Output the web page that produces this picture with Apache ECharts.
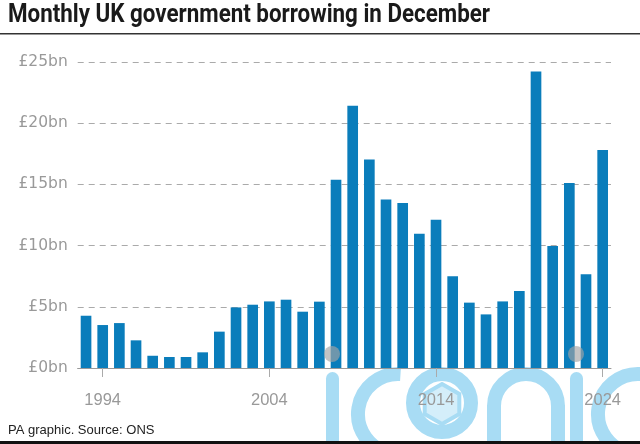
<!DOCTYPE html>
<html>
<head>
<meta charset="utf-8">
<script src="https://cdn.jsdelivr.net/npm/echarts@6/dist/echarts.min.js"></script>
<style>html,body{margin:0;padding:0;background:#fff}#c{width:640px;height:444px}</style>
</head>
<body>
<div id="c"></div>
<script>
var years = ['1993','1994','1995','1996','1997','1998','1999','2000','2001','2002','2003','2004','2005','2006','2007','2008','2009','2010','2011','2012','2013','2014','2015','2016','2017','2018','2019','2020','2021','2022','2023','2024'];
var borrowing = [4.27,3.51,3.67,2.26,1.0,0.9,0.9,1.28,2.97,4.95,5.17,5.44,5.58,4.6,5.42,15.38,21.43,17.04,13.77,13.48,10.97,12.12,7.49,5.34,4.38,5.44,6.29,24.23,9.97,15.11,7.65,17.81];
var labelledYears = ['1994','2004','2014','2024'];
var yTicks = [0,5,10,15,20,25];

var chart = echarts.init(document.getElementById('c'));
var shownIdx = function(i){ return labelledYears.indexOf(years[i]) >= 0; };
var wm = '#a8dcf4';
var wmStroke = {stroke: wm, lineWidth: 14, fill: 'none'};
var PI = Math.PI;
chart.setOption({
  animation: false,
  grid: {left: 77.7, right: 29, top: 62, bottom: 76, containLabel: false},
  xAxis: [{
    type: 'category', data: years, offset: 10,
    axisLine: {show: false},
    axisTick: {show: true, alignWithLabel: true, length: 9, lineStyle: {color: '#aaa', width: 1},
      interval: function(i){ return shownIdx(i); }},
    axisLabel: {margin: 14, color: '#999', fontSize: 16.5, fontFamily: 'Liberation Sans',
      interval: function(i){ return shownIdx(i); }}
  },{
    type: 'category', data: years, position: 'bottom',
    axisLine: {show: true, lineStyle: {color: '#999', width: 1}},
    axisTick: {show: false}, axisLabel: {show: false}
  }],
  yAxis: {
    type: 'value', min: 0, max: 25, interval: 5,
    axisLine: {show: false}, axisTick: {show: false},
    axisLabel: {margin: 10, color: '#999', fontSize: 15.5, fontFamily: 'DejaVu Sans',
      formatter: function(v){ return yTicks.indexOf(v) >= 0 ? '£' + v + 'bn' : ''; }},
    splitLine: {lineStyle: {color: '#aaa', type: [6, 5], width: 1}}
  },
  series: [{
    type: 'bar', data: borrowing, barCategoryGap: '36%',
    itemStyle: {color: '#0a7dbb'}, silent: true
  }],
  graphic: [
    {type: 'text', x: 8, y: 2, scaleX: 0.86, originX: 0, style: {text: 'Monthly UK government borrowing in December', fontSize: 26, fontWeight: 'bold', fontFamily: 'Roboto', fill: '#1a1a1a'}},
    {type: 'rect', left: 0, top: 33, shape: {width: 640, height: 1.5}, style: {fill: '#333'}},
    // watermark
    {type: 'group', z: -10, silent: true, children: [
      {type: 'rect', shape: {x: 326, y: 372, width: 13, height: 80, r: [6.5, 6.5, 0, 0]}, style: {fill: wm}},
      {type: 'arc', shape: {cx: 398, cy: 414, r: 40, startAngle: 0.55 * PI, endAngle: 1.52 * PI, clockwise: true}, style: wmStroke},
      {type: 'circle', shape: {cx: 442, cy: 403, r: 29}, style: wmStroke},
      {type: 'polygon', shape: {points: [[442, 384], [459.3, 394], [459.3, 414], [442, 424], [424.7, 414], [424.7, 394]]}, style: {fill: '#d4eefa', stroke: wm, lineWidth: 4}},
      {type: 'rect', shape: {x: 487, y: 405, width: 14, height: 45}, style: {fill: wm}},
      {type: 'rect', shape: {x: 551, y: 405, width: 14, height: 45}, style: {fill: wm}},
      {type: 'arc', shape: {cx: 526, cy: 406, r: 32, startAngle: PI, endAngle: 2 * PI, clockwise: true}, style: wmStroke},
      {type: 'rect', shape: {x: 570, y: 372, width: 13, height: 80, r: [6.5, 6.5, 0, 0]}, style: {fill: wm}},
      {type: 'arc', shape: {cx: 638, cy: 414, r: 40, startAngle: 0.55 * PI, endAngle: 1.52 * PI, clockwise: true}, style: wmStroke}
    ]},
    {type: 'circle', z: 100, silent: true, shape: {cx: 332, cy: 354, r: 8}, style: {fill: 'rgba(165,165,165,0.65)'}},
    {type: 'circle', z: 100, silent: true, shape: {cx: 576, cy: 354, r: 8}, style: {fill: 'rgba(165,165,165,0.65)'}},
    {type: 'text', x: 8, y: 424, style: {text: 'PA graphic. Source: ONS', fontSize: 13, fontFamily: 'Liberation Sans', fill: '#222'}},
    {type: 'rect', left: 0, top: 441, shape: {width: 640, height: 3}, style: {fill: '#111'}}
  ]
});
</script>
</body>
</html>
